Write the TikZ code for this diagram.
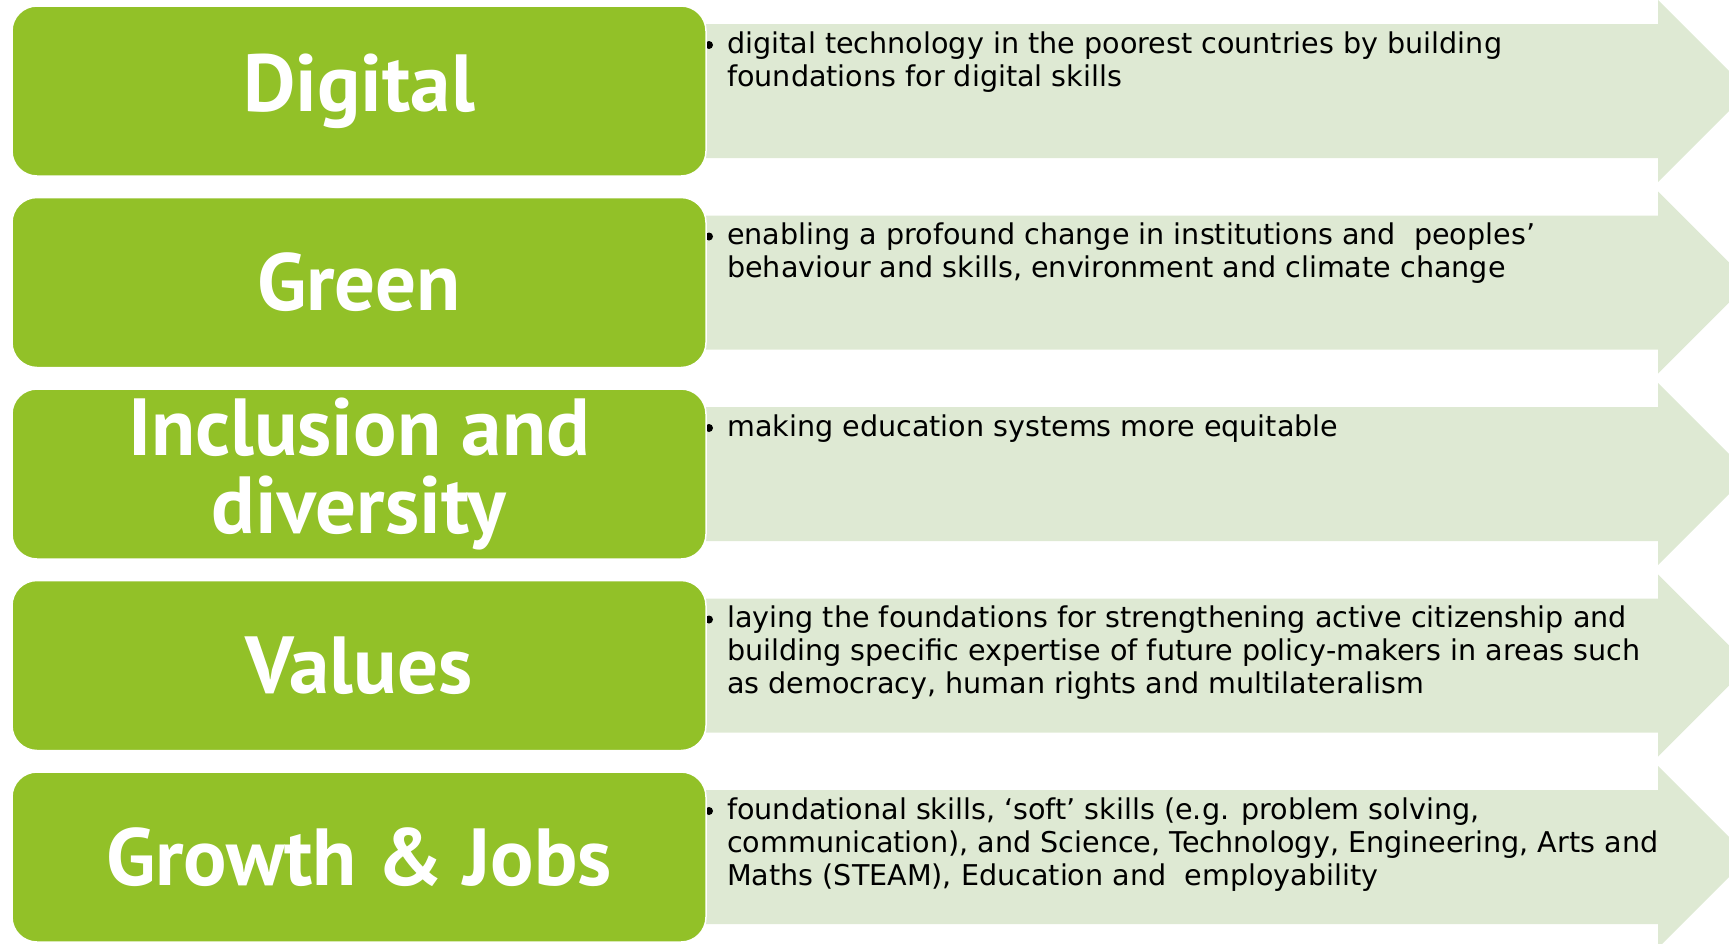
\documentclass[tikz,border=0pt]{standalone}
\usepackage{fontspec}
\setmainfont{PT Sans}
\newfontfamily\bodyfont{DejaVu Sans}
\definecolor{boxgreen}{RGB}{146,193,40}
\definecolor{arrowgreen}{RGB}{222,233,211}
\tikzset{
  greenbox/.style={fill=boxgreen, draw=white, line width=1.5pt, rounded corners=25pt,
    minimum width=694pt, minimum height=170pt, inner sep=0pt,
    text=white, align=center, font=\bfseries\fontsize{81}{78}\selectfont},
  desc/.style={font=\bodyfont\fontsize{28.6}{33}\selectfont, align=left, anchor=north west, inner sep=0pt, text=black},
  bigarrow/.style={fill=arrowgreen},
  bulletdot/.style={fill=black}
}
\begin{document}
\begin{tikzpicture}[x=1pt,y=-1pt]
\useasboundingbox (0,0) rectangle (1729,943);
\clip (0,0) rectangle (1729,943);
% arrows
\foreach \c in {91,282.5,474,665.5,857}{
  \fill[bigarrow] (690,\c-67) -- (1658,\c-67) -- (1658,\c-91) -- (1749,\c) -- (1658,\c+91) -- (1658,\c+67) -- (690,\c+67) -- cycle;
  \fill[bulletdot] (709,\c-46) circle (4pt);
}
% texts
\node[desc] (t1) at (727,91-61.1) {\strut digital technology in the poorest countries by building\\foundations for digital skills};
\node[desc] (t2) at (727,282.5-61.1) {\strut enabling a profound change in institutions and~ peoples’\\behaviour and skills, environment and climate change};
\node[desc] (t3) at (727,474-61.1) {\strut making education systems more equitable};
\node[desc] (t4) at (727,665.5-61.1) {\strut laying the foundations for strengthening active citizenship and\\building specific expertise of future policy-makers in areas such\\as democracy, human rights and multilateralism};
\node[desc] (t5) at (727,857-61.1) {\strut foundational skills, ‘soft’ skills (e.g. problem solving,\\communication), and Science, Technology, Engineering, Arts and\\Maths (STEAM), Education and~ employability};
% green boxes
\node[greenbox] (b1) at (359,91) {Digital};
\node[greenbox] (b2) at (359,282.5) {Green};
\node[greenbox] (b3) at (359,474) {Inclusion and\\diversity};
\node[greenbox] (b4) at (359,665.5) {Values};
\node[greenbox] (b5) at (359,857) {Growth \& Jobs};
\end{tikzpicture}
\end{document}
